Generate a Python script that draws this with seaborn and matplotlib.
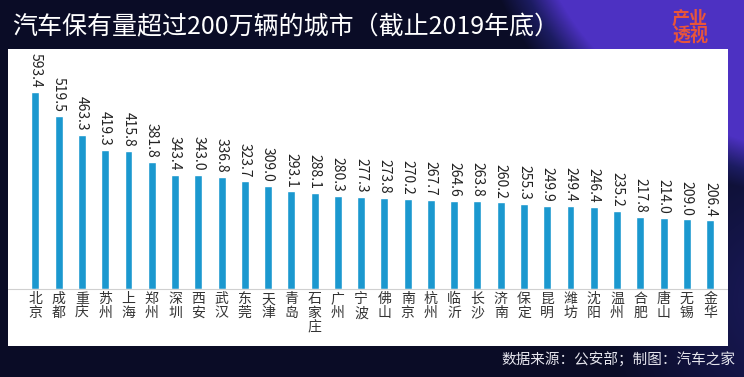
import numpy as np
import matplotlib
matplotlib.use("Agg")
import matplotlib.pyplot as plt
from matplotlib.colors import LinearSegmentedColormap
import seaborn as sns

# data (万辆)
cities = ["北京", "成都", "重庆", "苏州", "上海", "郑州", "深圳", "西安", "武汉", "东莞",
          "天津", "青岛", "石家庄", "广州", "宁波", "佛山", "南京", "杭州", "临沂", "长沙",
          "济南", "保定", "昆明", "潍坊", "沈阳", "温州", "合肥", "唐山", "无锡", "金华"]
cars = [593.4, 519.5, 463.3, 419.3, 415.8, 381.8, 343.4, 343.0, 336.8, 323.7,
        309.0, 293.1, 288.1, 280.3, 277.3, 273.8, 270.2, 267.7, 264.6, 263.8,
        260.2, 255.3, 249.9, 249.4, 246.4, 235.2, 217.8, 214.0, 209.0, 206.4]
title = "汽车保有量超过200万辆的城市（截止2019年底）"
source = "数据来源：公安部；制图：汽车之家"

sns.set_theme(style="white")
plt.rcParams["font.family"] = ["Noto Sans CJK SC", "DejaVu Sans"]

W, H = 744, 377
fig = plt.figure(figsize=(W / 100, H / 100), dpi=100)

# background: dark navy with a purple sweep in the top right
bg = fig.add_axes([0, 0, 1, 1])
yy, xx = np.mgrid[0:H, 0:W]
d = np.sqrt(((xx - 820) / 330.0) ** 2 + ((yy + 120) / 300.0) ** 2)
glow = np.clip((1.05 - d) * 6, 0, 1)
glow2 = np.clip(1 - np.sqrt(((xx - 780) / 180.0) ** 2 + ((yy - 300) / 200.0) ** 2), 0, 1) * 0.45
cmap = LinearSegmentedColormap.from_list("bg", ["#0a0c26", "#1c1c62", "#4d31c2"])
bg.imshow(np.clip(glow + glow2, 0, 1), cmap=cmap, aspect="auto", extent=[0, W, H, 0])
bg.axis("off")

# white panel holding the bars
ax = fig.add_axes([8 / W, 31 / H, 720 / W, 297 / H])
ax.set_facecolor("white")
x = np.arange(len(cities))
sns.barplot(x=x, y=cars, color="#1b98cf", width=0.34, saturation=1, ax=ax, native_scale=True)
ax.set_xlim(-1.18, 29.77)
ax.set_ylim(-172, 722)
ax.axhline(0, color="#d0d0d0", lw=0.8)
for i, v in enumerate(cars):
    ax.text(i, v + 12, f"{v:.1f}", rotation=270, ha="center", va="bottom",
            fontsize=10, color="#222222", clip_on=True)
    ax.text(i, -10, "\n".join(cities[i]), ha="center", va="top",
            fontsize=10, linespacing=1.0, color="#333333")
ax.set_xticks([])
ax.set_yticks([])
ax.set_xlabel("")
ax.set_ylabel("")
for s in ax.spines.values():
    s.set_visible(False)

fig.text(12 / W, 1 - 27 / H, title, color="white", fontsize=18, va="center", ha="left")
fig.text(735 / W, 1 - 360 / H, source, color="#e6e6ee", fontsize=10.5, va="center", ha="right")
fig.text(690 / W, 1 - 27 / H, "产业\n透视", color="#e8553a", fontsize=13, fontweight="bold",
         va="center", ha="center", linespacing=0.9)

fig.savefig("out.png", dpi=100)
